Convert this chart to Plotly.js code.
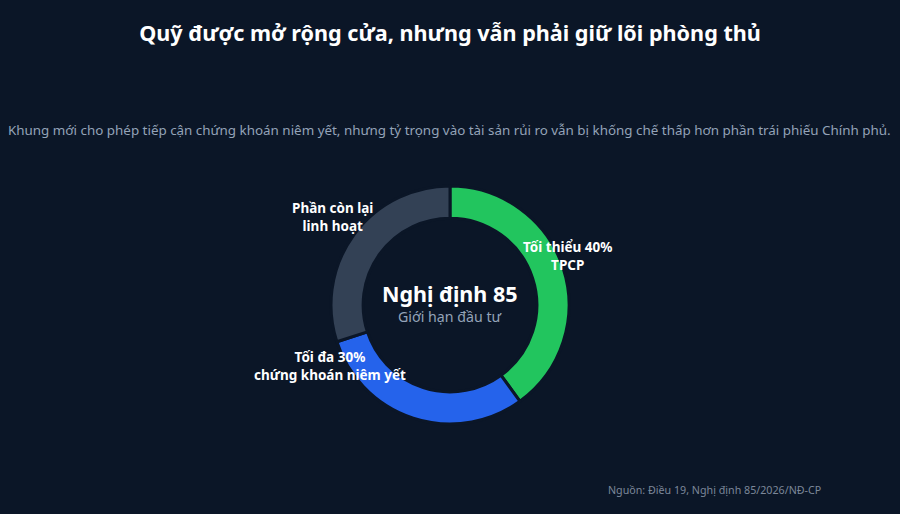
<!DOCTYPE html>
<html>
<head>
<meta charset="utf-8">
<script src="https://cdn.plot.ly/plotly-3.0.1.min.js"></script>
<style>
html,body{margin:0;padding:0;background:#0b1627;}
#chart{width:900px;height:514px;}
</style>
</head>
<body>
<div id="chart"></div>
<script>
const categories = ["Tối thiểu 40%<br>TPCP", "Tối đa 30%<br>chứng khoán niêm yết", "Phần còn lại<br>linh hoạt"];
const shares = [40, 30, 30];
const sliceColors = ["#22c55e", "#2563eb", "#334155"];
const labelPos = [[567, 256], [330, 366], [332, 217]];

const BG = "#0b1627";
const W = 900, H = 514;
const px = x => x / W;
const py = y => 1 - y / H;

const trace = {
  type: "pie",
  labels: categories,
  values: shares,
  sort: false,
  direction: "clockwise",
  rotation: 0,
  hole: 0.73,
  textinfo: "none",
  hoverinfo: "label+value",
  marker: { colors: sliceColors, line: { color: BG, width: 3 } },
  domain: { x: [0, 1], y: [py(424), py(186)] },
  showlegend: false
};

const annotations = categories.map((c, i) => ({
  text: "<b>" + c + "</b>",
  x: px(labelPos[i][0]), y: py(labelPos[i][1]),
  xref: "paper", yref: "paper", showarrow: false,
  xanchor: "center", yanchor: "middle", align: "center",
  font: { family: "Noto Sans", size: 13.5, color: "#ffffff" }
}));

annotations.push(
  { text: "<b>Nghị định 85</b>", x: px(450), y: py(293), xref: "paper", yref: "paper",
    showarrow: false, xanchor: "center", yanchor: "middle",
    font: { family: "Noto Sans", size: 21.5, color: "#ffffff" } },
  { text: "Giới hạn đầu tư", x: px(450), y: py(316), xref: "paper", yref: "paper",
    showarrow: false, xanchor: "center", yanchor: "middle",
    font: { family: "Noto Sans", size: 14.2, color: "#94a3b8" } },
  { text: "Khung mới cho phép tiếp cận chứng khoán niêm yết, nhưng tỷ trọng vào tài sản rủi ro vẫn bị khống chế thấp hơn phần trái phiếu Chính phủ.",
    x: px(449), y: py(130), xref: "paper", yref: "paper",
    showarrow: false, xanchor: "center", yanchor: "middle",
    font: { family: "Noto Sans", size: 13.4, color: "#94a3b8" } },
  { text: "Nguồn: Điều 19, Nghị định 85/2026/NĐ-CP", x: px(606), y: py(490), xref: "paper", yref: "paper",
    showarrow: false, xanchor: "left", yanchor: "middle",
    font: { family: "Noto Sans", size: 10.7, color: "#7c8799" } }
);

const layout = {
  width: W, height: H,
  paper_bgcolor: BG, plot_bgcolor: BG,
  margin: { l: 0, r: 0, t: 0, b: 0 },
  title: { text: "<b>Quỹ được mở rộng cửa, nhưng vẫn phải giữ lõi phòng thủ</b>",
    x: 0.5, xanchor: "center", y: py(33), yanchor: "middle", yref: "container",
    font: { family: "Noto Sans", size: 21.6, color: "#ffffff" } },
  annotations: annotations,
  showlegend: false
};

Plotly.newPlot("chart", [trace], layout, { displayModeBar: false });
</script>
</body>
</html>
